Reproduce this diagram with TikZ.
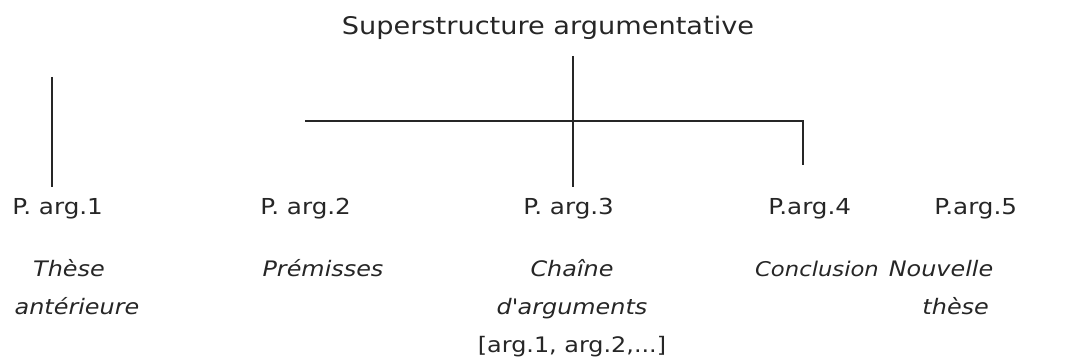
\documentclass[tikz,border=0pt]{standalone}
\usepackage{fontspec}
\setmainfont[FakeStretch=1.12]{DejaVu Sans}
\begin{document}
\begin{tikzpicture}[x=0.75pt,y=-0.75pt,
  conn/.style={line width=1.8pt,color=black!85},
  lab/.style={inner sep=0pt,anchor=base west,font=\fontsize{16.5}{20}\selectfont,text=black!85},
  desc/.style={inner sep=0pt,anchor=base,align=center,font=\fontsize{16}{28.5}\selectfont\itshape,text=black!85}]
\useasboundingbox (0,0) rectangle (1076,363);
\node[inner sep=0pt,anchor=base,font=\fontsize{18.2}{22}\selectfont,text=black!85] (title) at (548,35) {Superstructure argumentative};
\node[lab] (p1) at (12,215) {P. arg.1};
\node[lab] (p2) at (260,215) {P. arg.2};
\node[lab] (p3) at (523,215) {P. arg.3};
\node[lab] (p4) at (768,215) {P.arg.4};
\node[lab] (p5) at (934,215) {P.arg.5};
\node[desc] (d1) at (77,315) {\hspace*{-12pt}Thèse\\antérieure};
\node[desc] (d2) at (323,277) {Prémisses};
\node[desc] (d3) at (572,353) {Chaîne\\d\textquotesingle arguments\\{\upshape[arg.1, arg.2,...]}};
\node[desc,font=\fontsize{15.2}{20}\selectfont\itshape] (d4) at (817,277) {Conclusion};
\node[desc] (d5) at (941,315) {Nouvelle\\\hspace*{22pt}thèse};
\coordinate (top) at (573,56);
\coordinate (mid) at (573,121);
\coordinate (hl) at (305,121);
\coordinate (hr) at (803,121);
\coordinate (r4) at (803,165);
\coordinate (b3) at (573,187);
\coordinate (a1) at (52,77);
\coordinate (b1) at (52,187);
\draw[conn] (top) -- (b3);
\draw[conn] (hl) -- (hr) -- (r4);
\draw[conn] (a1) -- (b1);
\end{tikzpicture}
\end{document}
